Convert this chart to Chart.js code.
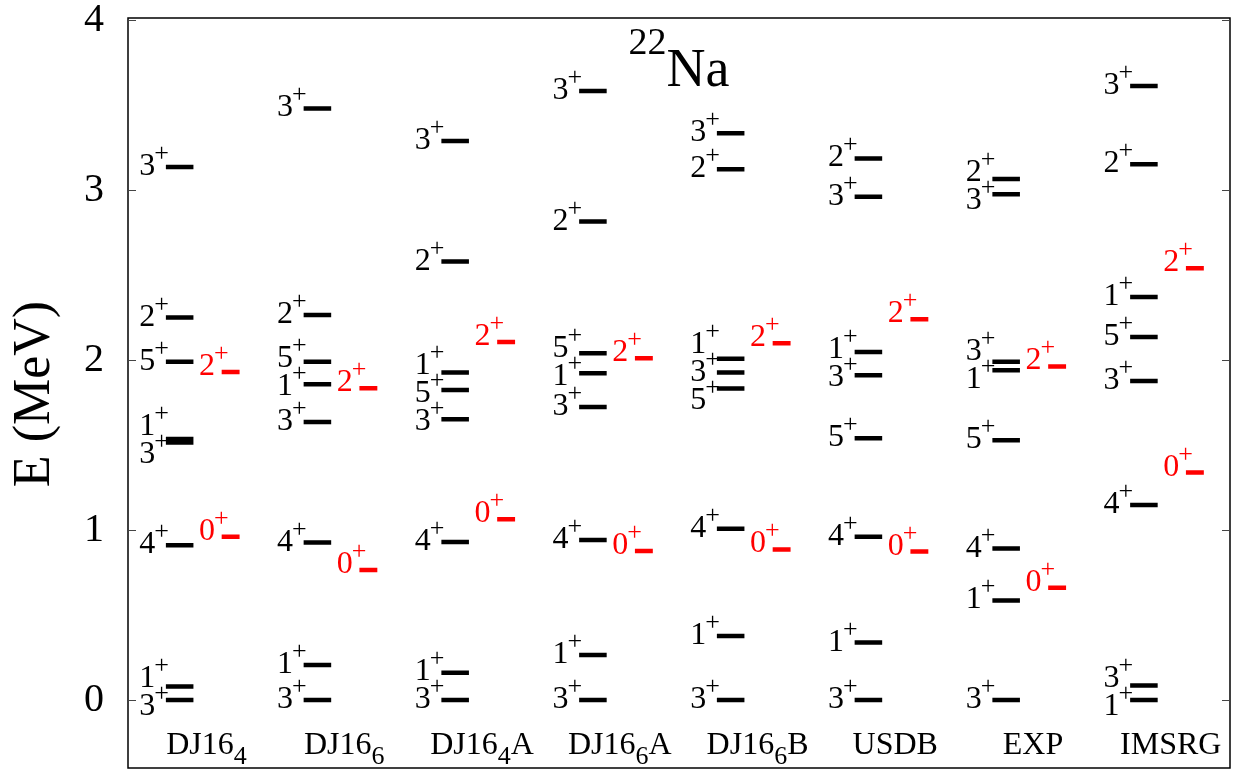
<!DOCTYPE html>
<html>
<head>
<meta charset="utf-8">
<script src="https://cdn.jsdelivr.net/npm/chart.js@4"></script>
<style>
  html, body { margin: 0; padding: 0; background: #fff; }
  #wrap { width: 1242px; height: 773px; }
</style>
</head>
<body>
<div id="wrap"><canvas id="levels"></canvas></div>
<script>
// columns (subscript after "_")
const categories = ['DJ16_4', 'DJ16_6', 'DJ16_4A', 'DJ16_6A', 'DJ16_6B', 'USDB', 'EXP', 'IMSRG'];

// positive parity T=0 levels (black), energies in MeV
const blackE = [
  [0, 0.08, 0.91, 1.515, 1.535, 1.99, 2.25, 3.135],
  [0, 0.206, 0.926, 1.635, 1.857, 1.99, 2.265, 3.48],
  [0, 0.161, 0.929, 1.651, 1.824, 1.926, 2.579, 3.288],
  [0, 0.265, 0.941, 1.724, 1.922, 2.04, 2.814, 3.582],
  [0, 0.376, 1.008, 1.832, 1.926, 2.008, 3.122, 3.334],
  [0, 0.338, 0.961, 1.539, 1.91, 2.047, 2.961, 3.186],
  [0, 0.586, 0.891, 1.528, 1.94, 1.99, 2.975, 3.065],
  [0, 0.086, 1.147, 1.876, 2.135, 2.371, 3.152, 3.612]
];
const blackJ = [
  ['3', '1', '4', '3', '1', '5', '2', '3'],
  ['3', '1', '4', '3', '1', '5', '2', '3'],
  ['3', '1', '4', '3', '5', '1', '2', '3'],
  ['3', '1', '4', '3', '1', '5', '2', '3'],
  ['3', '1', '4', '5', '3', '1', '2', '3'],
  ['3', '1', '4', '5', '3', '1', '3', '2'],
  ['3', '1', '4', '5', '1', '3', '3', '2'],
  ['1', '3', '4', '3', '5', '1', '2', '3']
];

// T=1 analog levels (red)
const redE = [
  [0.96, 1.93],
  [0.765, 1.834],
  [1.063, 2.106],
  [0.876, 2.01],
  [0.886, 2.098],
  [0.873, 2.239],
  [0.661, 1.962],
  [1.338, 2.54]
];
const redJ = [
  ['0', '2'], ['0', '2'], ['0', '2'], ['0', '2'],
  ['0', '2'], ['0', '2'], ['0', '2'], ['0', '2']
];

const yTicks = [0, 1, 2, 3, 4];

const FONT = "'Liberation Serif', 'Times New Roman', serif";
const blackFrom = 0.275, blackTo = 0.475;
const redFrom = 0.68, redTo = 0.81;

function segments(E, from, to) {
  var pts = [];
  E.forEach((col, i) => {
    col.forEach(e => {
      pts.push({x: i + from, y: e});
      pts.push({x: i + to, y: e});
      pts.push({x: i + to, y: null});
    });
  });
  return pts;
}

// push label positions apart when levels are too close
function spread(ys, gap) {
  let out = ys.slice();
  for (let it = 0; it < 100; it++) {
    for (let k = 1; k < out.length; k++) {
      const d = out[k - 1] - out[k];
      if (d < gap) {
        const m = (gap - d) / 2;
        out[k - 1] += m;
        out[k] -= m;
      }
    }
  }
  return out;
}

function drawSpin(ctx, j, rightX, cy, color) {
  ctx.fillStyle = color;
  ctx.textAlign = 'right';
  ctx.textBaseline = 'alphabetic';
  ctx.font = '26px ' + FONT;
  const pw = ctx.measureText('+').width;
  ctx.fillText('+', rightX, cy - 3);
  ctx.font = '32px ' + FONT;
  ctx.fillText(j, rightX - pw + 1, cy + 11);
}

function drawCategory(ctx, label, cx, base) {
  let parts = label.match(/^([^_]*)(?:_(.))?(.*)$/);
  let main = parts[1], sub = parts[2] || '', rest = parts[3] || '';
  ctx.font = '32px ' + FONT;
  const w1 = ctx.measureText(main).width;
  const w3 = ctx.measureText(rest).width;
  ctx.font = '26px ' + FONT;
  const w2 = ctx.measureText(sub).width;
  let x0 = cx - (w1 + w2 + w3) / 2;
  ctx.textAlign = 'left';
  ctx.textBaseline = 'alphabetic';
  ctx.fillStyle = '#000';
  ctx.font = '32px ' + FONT;
  ctx.fillText(main, x0, base);
  ctx.font = '26px ' + FONT;
  ctx.fillText(sub, x0 + w1, base + 10);
  ctx.font = '32px ' + FONT;
  ctx.fillText(rest, x0 + w1 + w2, base);
}

const levelPlugin = {
  id: 'levelLabels',
  afterDraw(chart) {
    const ctx = chart.ctx, a = chart.chartArea;
    const x = chart.scales.x, y = chart.scales.y;
    ctx.save();

    // frame and inward ticks
    ctx.strokeStyle = '#000';
    ctx.lineWidth = 1.5;
    ctx.strokeRect(a.left, a.top - 2, a.right - a.left, a.bottom - a.top + 2);
    ctx.lineWidth = 1;
    ctx.strokeStyle = '#444';
    yTicks.forEach(v => {
      const py = Math.round(y.getPixelForValue(v)) + 0.5;
      ctx.beginPath();
      ctx.moveTo(a.left, py); ctx.lineTo(a.left + 8, py);
      ctx.moveTo(a.right, py); ctx.lineTo(a.right - 8, py);
      ctx.stroke();
    });

    categories.forEach((cat, i) => {
      // black labels
      const left = x.getPixelForValue(i + blackFrom);
      const order = blackE[i].map((e, k) => k).sort((p, q) => blackE[i][p] - blackE[i][q]);
      const ys = order.map(k => y.getPixelForValue(blackE[i][k]) - 3);
      const ly = spread(ys, 28);
      order.forEach((k, n) => drawSpin(ctx, blackJ[i][k], left + 3, ly[n], '#000'));

      // red labels
      const rleft = x.getPixelForValue(i + redFrom);
      redE[i].forEach((e, k) => drawSpin(ctx, redJ[i][k], rleft + 7, y.getPixelForValue(e) - 8, '#ff0000'));

      drawCategory(ctx, cat, x.getPixelForValue(i + 0.57), y.getPixelForValue(-0.25) + 11);
    });

    // nucleus title
    const cx = (a.left + a.right) / 2;
    ctx.fillStyle = '#000';
    ctx.textAlign = 'left';
    ctx.textBaseline = 'alphabetic';
    ctx.font = '38px ' + FONT;
    const w22 = ctx.measureText('22').width;
    ctx.font = '54px ' + FONT;
    const wNa = ctx.measureText('Na').width;
    const x0 = cx - (w22 + wNa) / 2;
    ctx.font = '38px ' + FONT;
    ctx.fillText('22', x0, 54);
    ctx.font = '54px ' + FONT;
    ctx.fillText('Na', x0 + w22, 86);

    ctx.restore();
  }
};

var ctx = document.getElementById('levels').getContext('2d');
var chart = new Chart(ctx, {
  type: 'scatter',
  data: {
    datasets: [
      {
        data: segments(blackE, blackFrom, blackTo),
        showLine: true,
        borderColor: '#000',
        borderWidth: 4.5,
        borderCapStyle: 'butt',
        pointRadius: 0,
        spanGaps: false
      },
      {
        data: segments(redE, redFrom, redTo),
        showLine: true,
        borderColor: '#ff0000',
        borderWidth: 4.5,
        borderCapStyle: 'butt',
        pointRadius: 0,
        spanGaps: false
      }
    ]
  },
  options: {
    responsive: true,
    maintainAspectRatio: false,
    animation: false,
    layout: { padding: { left: 0, top: 20, right: 12, bottom: 5 } },
    plugins: { legend: { display: false }, tooltip: { enabled: false } },
    scales: {
      x: { type: 'linear', min: 0, max: 8, display: false },
      y: {
        type: 'linear', min: -0.4, max: 4,
        afterBuildTicks: s => { s.ticks = yTicks.map(v => ({ value: v })); },
        afterFit: s => { s.width = 128; s.paddingTop = 0; s.paddingBottom = 0; },
        grid: { display: false, drawTicks: false },
        border: { display: false },
        ticks: { padding: 24, color: '#000', font: { family: FONT, size: 40 } },
        title: {
          display: true, text: 'E (MeV)', color: '#000',
          font: { family: FONT, size: 52 }, padding: { top: 4, bottom: 0 }
        }
      }
    }
  },
  plugins: [levelPlugin]
});
</script>
</body>
</html>
